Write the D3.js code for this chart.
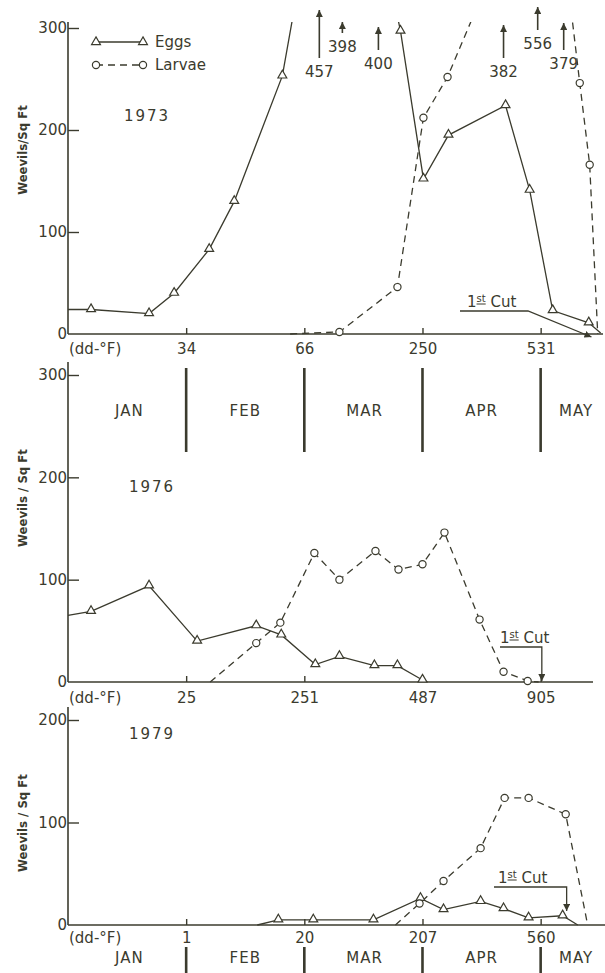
<!DOCTYPE html>
<html>
<head>
<meta charset="utf-8">
<script src="https://cdn.jsdelivr.net/npm/d3@7"></script>
<style>
  body { margin: 0; background: #fff; }
  svg text { font-family: "DejaVu Sans", sans-serif; fill: #3b3b2e; }
</style>
</head>
<body>
<svg id="chart" width="605" height="973"></svg>
<script>
const INK = '#3b3b2e';

// month axis (x in months since Jan 1)
const monthNames = ['JAN', 'FEB', 'MAR', 'APR', 'MAY'];
const monthCentres = [0.52, 1.5, 2.51, 3.5, 4.3];
const monthStarts = [1, 2, 3, 4];

// accumulated degree-days at start of each month
const dd1973 = ['34', '66', '250', '531'];
const dd1976 = ['25', '251', '487', '905'];
const dd1979 = ['1', '20', '207', '560'];

// 1973
const eggsMonth1973 = [0, 0.195, 0.686, 0.898, 1.195, 1.407, 1.814, 2.127, 2.322, 2.627, 2.814, 3.008, 3.22, 3.703, 3.907, 4.102, 4.407, 4.508];
const eggs1973 = [24, 24, 20, 40, 83, 130, 253, 457, 398, 400, 297, 152, 195, 224, 141, 23, 11, 1];
const larvaeMonth1973 = [1.88, 2.297, 2.788, 3.008, 3.212, 3.686, 3.975, 4.195, 4.331, 4.415, 4.483];
const larvae1973 = [0, 2, 46, 212, 252, 382, 556, 379, 246, 166, 0];

// 1976
const eggsMonth1976 = [0, 0.195, 0.686, 1.093, 1.593, 1.805, 2.093, 2.297, 2.593, 2.788, 3.0, 3.042];
const eggs1976 = [65, 69, 94, 40, 55, 46, 17, 25, 16, 16, 2, 0];
const larvaeMonth1976 = [1.203, 1.593, 1.797, 2.085, 2.297, 2.602, 2.797, 3.0, 3.186, 3.483, 3.686, 3.89, 3.983];
const larvae1976 = [0, 38, 58, 126, 100, 128, 110, 115, 146, 61, 10, 1, 0];

// 1979
const eggsMonth1979 = [1.602, 1.78, 2.076, 2.585, 2.983, 3.178, 3.492, 3.686, 3.898, 4.186, 4.314];
const eggs1979 = [0, 5, 5, 5, 26, 15, 23, 16, 7, 9, 0];
const larvaeMonth1979 = [2.771, 2.975, 3.178, 3.492, 3.695, 3.898, 4.212, 4.398];
const larvae1979 = [0, 21, 43, 75, 124, 124, 108, 0];

// first cutting dates (months)
const firstCut = [4.43, 4.01, 4.22];

// arrow tip / tail y for the off-scale 1973 values (eggs then larvae)
const arrowLayout1973 = [[10, 58], [22, 33], [27, 50], [25, 58], [7, 30], [23, 50]];

const svg = d3.select('#chart');

const defs = svg.append('defs');
defs.append('marker')
  .attr('id', 'head')
  .attr('viewBox', '0 0 10 10')
  .attr('refX', 10).attr('refY', 5)
  .attr('markerWidth', 7).attr('markerHeight', 7)
  .attr('markerUnits', 'userSpaceOnUse')
  .attr('orient', 'auto')
  .append('path').attr('d', 'M0,0L10,5L0,10Z').attr('fill', INK);

const x = d3.scaleLinear().domain([0, 4.57]).range([68, 608]);

const panels = [
  { year: '1973', zero: 334, top300: 28, max: 300, ticks: [0, 100, 200, 300], axisTop: 22, xEnd: 603,
    dd: dd1973, ddY: 9, eggs: d3.zip(eggsMonth1973, eggs1973), larvae: d3.zip(larvaeMonth1973, larvae1973),
    yLabel: 'Weevils/Sq Ft', yLabelY: 150, yearXY: [147, 121], clipTop: 22,
    cut: { x: firstCut[0], textX: 467, textY: 307, x0: 460, x1: 528, y: 311, tipY: 337 } },
  { year: '1976', zero: 682, top300: 375, max: 300, ticks: [0, 100, 200, 300], axisTop: 362, xEnd: 593,
    dd: dd1976, ddY: 10, eggs: d3.zip(eggsMonth1976, eggs1976), larvae: d3.zip(larvaeMonth1976, larvae1976),
    yLabel: 'Weevils / Sq Ft', yLabelY: 498, yearXY: [152, 492], clipTop: 362,
    cut: { x: firstCut[1], textX: 500, textY: 643, x0: 500, x1: null, y: 647, tipY: 681 } },
  { year: '1979', zero: 925, top300: 925 - 3 * 102.5, max: 200, ticks: [0, 100, 200], axisTop: 707, xEnd: 605,
    dd: dd1979, ddY: 7, eggs: d3.zip(eggsMonth1979, eggs1979), larvae: d3.zip(larvaeMonth1979, larvae1979),
    yLabel: 'Weevils / Sq Ft', yLabelY: 823, yearXY: [152, 739], clipTop: 707,
    cut: { x: firstCut[2], textX: 498, textY: 883, x0: 494, x1: null, y: 887, tipY: 911 } }
];

const tri = d3.symbol().type(d3.symbolTriangle).size(34);

panels.forEach((p, i) => {
  const y = d3.scaleLinear().domain([0, 300]).range([p.zero, p.top300]);
  const g = svg.append('g');

  // y axis
  g.append('line')
    .attr('x1', x(0)).attr('x2', x(0))
    .attr('y1', p.axisTop).attr('y2', p.zero)
    .attr('stroke', INK).attr('stroke-width', 1.6);
  const yAx = g.append('g')
    .attr('transform', `translate(${x(0)},0)`)
    .call(d3.axisLeft(y).tickValues(p.ticks).tickSize(-11).tickPadding(1).tickFormat(d3.format('d')));
  yAx.select('.domain').remove();
  yAx.selectAll('line').attr('stroke', INK).attr('stroke-width', 1.4);
  yAx.selectAll('text').style('font-size', '15px').attr('fill', INK);
  yAx.selectAll('.tick').filter(d => d === 0).select('line').remove();

  // x axis
  g.append('line')
    .attr('x1', x(0)).attr('x2', p.xEnd)
    .attr('y1', p.zero).attr('y2', p.zero)
    .attr('stroke', INK).attr('stroke-width', 1.6);
  const xAx = g.append('g')
    .attr('transform', `translate(0,${p.zero})`)
    .call(d3.axisBottom(x).tickValues(monthStarts).tickSize(-6).tickPadding(p.ddY)
      .tickFormat((d, k) => p.dd[k]));
  xAx.select('.domain').remove();
  xAx.selectAll('line').attr('stroke', INK).attr('stroke-width', 1.4);
  xAx.selectAll('text').style('font-size', '15px').attr('fill', INK);
  g.append('text')
    .attr('x', x(0) + 1).attr('y', p.zero + p.ddY).attr('dy', '0.71em')
    .style('font-size', '15px').text('(dd-°F)');

  // axis title and year
  g.append('text')
    .attr('transform', `translate(27,${p.yLabelY}) rotate(-90)`)
    .attr('text-anchor', 'middle')
    .style('font-family', '"DejaVu Sans Condensed", "DejaVu Sans", sans-serif')
    .style('font-weight', 'bold').style('font-size', '13px')
    .text(p.yLabel);
  g.append('text')
    .attr('x', p.yearXY[0]).attr('y', p.yearXY[1])
    .attr('text-anchor', 'middle')
    .style('font-size', '15px').style('letter-spacing', '2px')
    .text(p.year);

  // series
  const clipId = 'clip' + i;
  defs.append('clipPath').attr('id', clipId)
    .append('rect').attr('x', 0).attr('y', p.clipTop).attr('width', 605).attr('height', p.zero + 4 - p.clipTop);
  const plot = g.append('g').attr('clip-path', `url(#${clipId})`);
  const line = d3.line().x(d => x(d[0])).y(d => y(d[1]));

  plot.append('path').datum(p.eggs)
    .attr('d', line).attr('fill', 'none')
    .attr('stroke', INK).attr('stroke-width', 1.3);
  plot.append('path').datum(p.larvae)
    .attr('d', line).attr('fill', 'none')
    .attr('stroke', INK).attr('stroke-width', 1.3).attr('stroke-dasharray', '7,5');

  const inner = arr => arr.slice(1, -1).filter(d => d[1] <= p.max);
  g.selectAll(null).data(inner(p.eggs)).enter().append('path')
    .attr('d', tri)
    .attr('transform', d => `translate(${x(d[0])},${y(d[1]) - 0.5})`)
    .attr('fill', '#fff').attr('stroke', INK).attr('stroke-width', 1.2);
  g.selectAll(null).data(inner(p.larvae)).enter().append('circle')
    .attr('cx', d => x(d[0])).attr('cy', d => y(d[1])).attr('r', 3.6)
    .attr('fill', '#fff').attr('stroke', INK).attr('stroke-width', 1.2);

  // off-scale values
  const off = p.eggs.concat(p.larvae).filter(d => d[1] > p.max);
  off.forEach((d, k) => {
    const [tip, tail] = arrowLayout1973[k];
    g.append('line')
      .attr('x1', x(d[0])).attr('x2', x(d[0]))
      .attr('y1', tail).attr('y2', tip)
      .attr('stroke', INK).attr('stroke-width', 1.6)
      .attr('marker-end', 'url(#head)');
    g.append('text')
      .attr('x', x(d[0])).attr('y', tail + 19)
      .attr('text-anchor', 'middle')
      .style('font-size', '15px')
      .text(d[1]);
  });

  // first cut annotation
  const c = p.cut;
  const cx = x(c.x);
  const t = g.append('text').attr('x', c.textX).attr('y', c.textY).style('font-size', '15px');
  t.append('tspan').text('1');
  t.append('tspan').attr('dy', -5).style('font-size', '10px').text('st');
  t.append('tspan').attr('dy', 5).text(' Cut');
  const n = t.node();
  const s0 = n.getStartPositionOfChar(1).x;
  const s1 = n.getEndPositionOfChar(2).x;
  g.append('line')
    .attr('x1', s0).attr('x2', s1)
    .attr('y1', c.textY - 3).attr('y2', c.textY - 3)
    .attr('stroke', INK).attr('stroke-width', 1);
  const x1 = c.x1 === null ? cx : c.x1;
  g.append('path')
    .attr('d', `M${c.x0},${c.y}H${x1}L${cx},${c.tipY}`)
    .attr('fill', 'none').attr('stroke', INK).attr('stroke-width', 1.3)
    .attr('marker-end', 'url(#head)');
});

// legend
const lg = svg.append('g');
const legendRows = [['Eggs', 42, false], ['Larvae', 65, true]];
legendRows.forEach(([label, ly, dashed]) => {
  lg.append('line')
    .attr('x1', 96).attr('x2', 143).attr('y1', ly).attr('y2', ly)
    .attr('stroke', INK).attr('stroke-width', 1.3)
    .attr('stroke-dasharray', dashed ? '7,5' : null);
  [96, 143].forEach(px => {
    if (dashed) {
      lg.append('circle').attr('cx', px).attr('cy', ly).attr('r', 3.6)
        .attr('fill', '#fff').attr('stroke', INK).attr('stroke-width', 1.2);
    } else {
      lg.append('path').attr('d', tri).attr('transform', `translate(${px},${ly})`)
        .attr('fill', '#fff').attr('stroke', INK).attr('stroke-width', 1.2);
    }
  });
  lg.append('text').attr('x', 155).attr('y', ly + 5).style('font-size', '15px').text(label);
});

// month bands
const bands = [{ y0: 368, y1: 452, ty: 416 }, { y0: 947, y1: 973, ty: 963 }];
bands.forEach(b => {
  svg.selectAll(null).data(monthStarts).enter().append('line')
    .attr('x1', d => x(d)).attr('x2', d => x(d))
    .attr('y1', b.y0).attr('y2', b.y1)
    .attr('stroke', INK).attr('stroke-width', 2.6);
  svg.selectAll(null).data(monthNames).enter().append('text')
    .attr('x', (d, k) => x(monthCentres[k])).attr('y', b.ty)
    .attr('text-anchor', 'middle')
    .style('font-size', '15px').style('letter-spacing', '1px')
    .text(d => d);
});
</script>
</body>
</html>
